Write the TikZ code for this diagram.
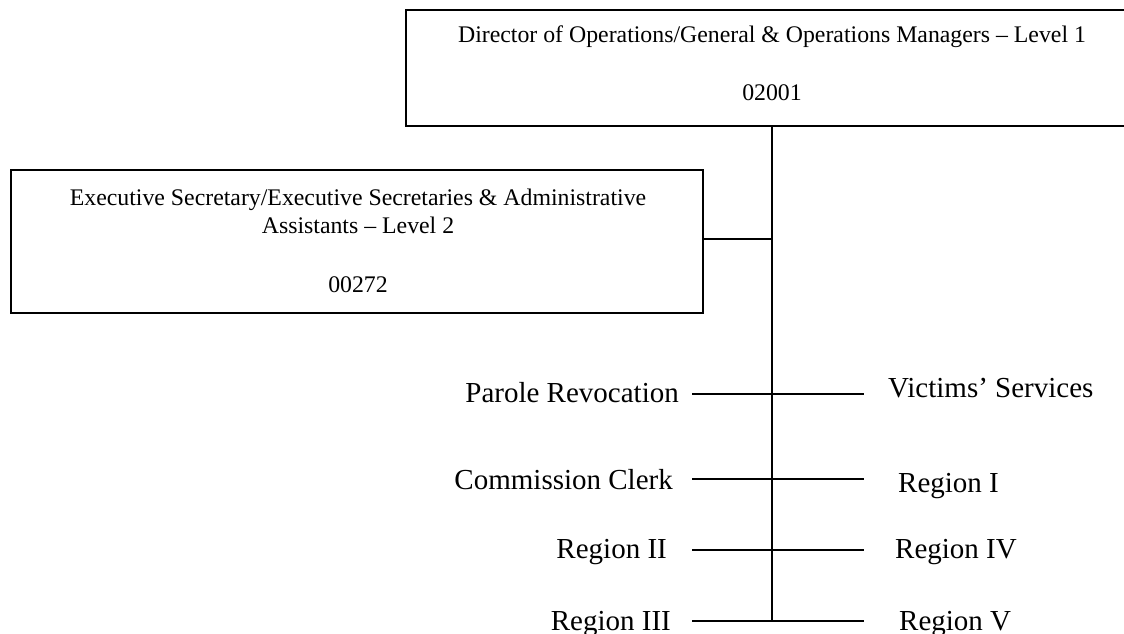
\documentclass[tikz,border=0pt]{standalone}
\usepackage{fontspec}
\setmainfont{Liberation Serif}
\begin{document}
\begin{tikzpicture}[x=1pt,y=-1pt,
  box/.style={draw,line width=2.8pt,rectangle,inner sep=0pt,outer sep=0pt},
  boxtext/.style={inner sep=0pt,font=\fontsize{23.8}{28}\selectfont},
  unit/.style={inner sep=0pt,font=\fontsize{29}{34}\selectfont},
  link/.style={line width=2pt},
  thinlink/.style={line width=1.6pt}]
\useasboundingbox (0,0) rectangle (1124,634);

% management boxes
\node[box,minimum width=724pt,minimum height=116pt] (dir) at (768,68) {};
\node[boxtext,anchor=base] (dirt) at (772,43)
  {Director of Operations/General \& Operations Managers -- Level 1};
\node[boxtext,anchor=base] (dirc) at (772,100) {02001};

\node[box,minimum width=692pt,minimum height=143pt] (sec) at (357,241.5) {};
\node[boxtext,anchor=base] (sect1) at (358,205)
  {Executive Secretary/Executive Secretaries \& Administrative};
\node[boxtext,anchor=base] (sect2) at (358,233) {Assistants -- Level 2};
\node[boxtext,anchor=base] (secc) at (358,292) {00272};

% junctions on the spine
\coordinate (j1) at (772,239);
\coordinate (j2) at (772,394);
\coordinate (j3) at (772,479);
\coordinate (j4) at (772,550);
\coordinate (j5) at (772,621);

% branch ends
\coordinate (l2) at (692,394);  \coordinate (r2) at (864,394);
\coordinate (l3) at (692,479);  \coordinate (r3) at (864,479);
\coordinate (l4) at (692,550);  \coordinate (r4) at (864,550);
\coordinate (l5) at (692,621);  \coordinate (r5) at (864,621);

% unit labels
\node[unit,anchor=base east] (pr) at (679,402) {Parole Revocation};
\node[unit,anchor=base west] (vs) at (888,397) {Victims’ Services};
\node[unit,anchor=base east] (cc) at (673,489) {Commission Clerk};
\node[unit,anchor=base west] (r1t) at (898,492) {Region I};
\node[unit,anchor=base east] (r2t) at (667,558) {Region II};
\node[unit,anchor=base west] (r4t) at (895,558) {Region IV};
\node[unit,anchor=base east] (r3t) at (671,630) {Region III};
\node[unit,anchor=base west] (r5t) at (899,630) {Region V};

% connectors
\draw[link] (dir.south -| j5) -- (j5);
\draw[thinlink] (sec.east |- j1) -- (j1);
\draw[link] (l2) -- (r2);
\draw[link] (l3) -- (r3);
\draw[link] (l4) -- (r4);
\draw[link] (l5) -- (r5);
\end{tikzpicture}
\end{document}
